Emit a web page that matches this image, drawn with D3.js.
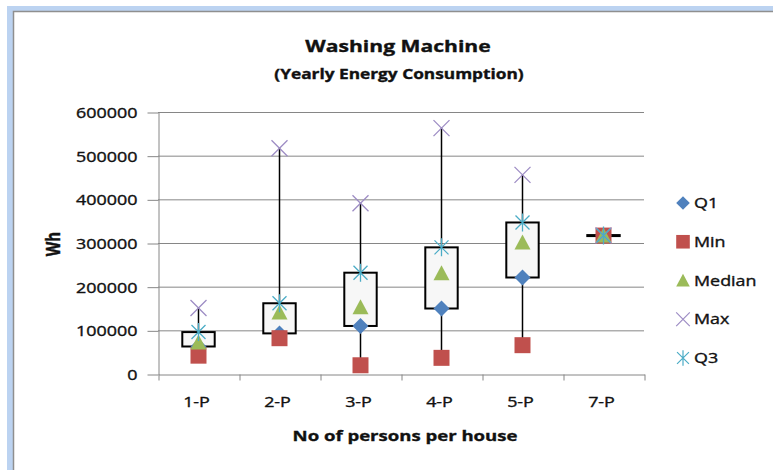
<!DOCTYPE html>
<html>
<head>
<meta charset="utf-8">
<script src="https://cdn.jsdelivr.net/npm/d3@7"></script>
<style>
  body { margin: 0; background: white; }
  text { font-family: "Open Sans", sans-serif; fill: #111; stroke: #111; stroke-width: 0.35px; }
</style>
</head>
<body>
<div id="chart"></div>
<script>
var svgWidth = 773;
var svgHeight = 470;
var stretch = 1.28; // the reference text is drawn wide

// data
var categories = ["1-P", "2-P", "3-P", "4-P", "5-P", "7-P"];
var q1Values     = [63000, 93000, 110000, 150000, 221000, 317000];
var minValues    = [42000, 82000, 20000, 37000, 66000, 317000];
var medianValues = [72000, 141000, 153000, 231000, 301000, 317000];
var maxValues    = [151000, 517000, 391000, 563000, 456000, 317000];
var q3Values     = [96000, 162000, 232000, 290000, 347000, 317000];
var yTicks = [0, 100000, 200000, 300000, 400000, 500000, 600000];
var seriesNames = ["Q1", "Min", "Median", "Max", "Q3"];

var plotLeft = 158, plotRight = 644, plotTop = 112, plotBottom = 374;
var axisColor = "#868686";

var svg = d3.select("#chart")
	.append("svg")
	.attr("width", svgWidth)
	.attr("height", svgHeight);

// frame like the spreadsheet window edge
svg.append("rect")
	.attr("x", 7).attr("y", 6)
	.attr("width", svgWidth).attr("height", svgHeight)
	.attr("fill", "#bcd3f1");
svg.append("rect")
	.attr("x", 13.5).attr("y", 11.5)
	.attr("width", svgWidth).attr("height", svgHeight)
	.attr("fill", "white")
	.attr("stroke", "#8f8f8f")
	.attr("stroke-width", 1.5);

var x = d3.scaleBand()
	.domain(categories)
	.range([plotLeft, plotRight]);
var xEdges = d3.scaleLinear()
	.domain([0, categories.length])
	.range([plotLeft, plotRight]);
var y = d3.scaleLinear()
	.domain([0, 600000])
	.range([plotBottom, plotTop]);

var addText = function(str, tx, ty, size, weight, anchor) {
	return svg.append("text")
		.attr("transform", "translate(" + tx + "," + ty + ") scale(" + stretch + ",1)")
		.attr("text-anchor", anchor || "middle")
		.style("font-size", size + "px")
		.style("font-weight", weight)
		.text(str);
}

// titles
addText("Washing Machine", 398, 52, 16.5, "bold");
addText("(Yearly Energy Consumption)", 399, 79, 13.5, "bold");
addText("No of persons per house", 405, 441, 14.5, "bold");
svg.append("text")
	.attr("transform", "translate(60,244) scale(" + stretch + ",1) rotate(-90)")
	.attr("text-anchor", "middle")
	.style("font-size", "15px")
	.style("font-weight", "bold")
	.text("Wh");

// gridlines
svg.append("g")
	.selectAll("line")
	.data(yTicks.slice(1))
	.enter()
	.append("line")
	.attr("x1", plotLeft).attr("x2", plotRight)
	.attr("y1", function(d){return y(d) + 0.5})
	.attr("y2", function(d){return y(d) + 0.5})
	.attr("stroke", axisColor)
	.attr("stroke-width", 1);

// y axis
var yAxis = svg.append("g")
	.attr("transform", "translate(" + (plotLeft + 0.5) + ",0.5)")
	.call(d3.axisLeft(y).tickValues(yTicks).tickSizeInner(11).tickSizeOuter(0).tickFormat(d3.format("d")));
yAxis.select(".domain").attr("stroke", axisColor);
yAxis.selectAll(".tick line").attr("stroke", axisColor);
yAxis.selectAll(".tick text")
	.attr("x", null)
	.attr("dy", "0.36em")
	.attr("transform", "translate(-21,0) scale(" + stretch + ",1)")
	.style("font-size", "14px")
	.style("font-family", "'Open Sans', sans-serif")
	.attr("fill", "#111");

// x axis: ticks at category edges, labels at centres
var xAxis = svg.append("g")
	.attr("transform", "translate(0.5," + (plotBottom + 0.5) + ")")
	.call(d3.axisBottom(xEdges).ticks(categories.length).tickSizeInner(6).tickSizeOuter(0).tickFormat(""));
xAxis.select(".domain").attr("stroke", axisColor);
xAxis.selectAll(".tick line").attr("stroke", axisColor);

var xLabels = svg.append("g")
	.attr("transform", "translate(0," + plotBottom + ")")
	.call(d3.axisBottom(x).tickSize(0));
xLabels.select(".domain").remove();
xLabels.selectAll(".tick text")
	.attr("y", null)
	.attr("dy", null)
	.attr("transform", "translate(-2,33) scale(" + stretch + ",1)")
	.style("font-size", "14px")
	.style("font-family", "'Open Sans', sans-serif")
	.attr("fill", "#111");

// boxes
var rows = categories.map(function(c, i) {
	return {cat: c, q1: q1Values[i], min: minValues[i], median: medianValues[i], max: maxValues[i], q3: q3Values[i]};
});
var boxWidth = x.bandwidth() * 0.4;
var cx = function(d){return x(d.cat) + x.bandwidth() / 2};

svg.append("g")
	.selectAll("line")
	.data(rows)
	.enter()
	.append("line")
	.attr("x1", cx).attr("x2", cx)
	.attr("y1", function(d){return y(d.min)})
	.attr("y2", function(d){return y(d.max)})
	.attr("stroke", "black")
	.attr("stroke-width", 1.5);

// a box with q1 == q3 gets a height of 1 so that it still shows as a thick bar
svg.append("g")
	.selectAll("rect")
	.data(rows)
	.enter()
	.append("rect")
	.attr("x", function(d){return cx(d) - boxWidth / 2})
	.attr("y", function(d){return y(Math.max(d.q1, d.q3)) - (d.q1 === d.q3 ? 0.5 : 0)})
	.attr("width", boxWidth)
	.attr("height", function(d){return Math.max(1, Math.abs(y(d.q1) - y(d.q3)))})
	.attr("fill", "#f7f7f7")
	.attr("stroke", "black")
	.attr("stroke-width", 2);

// marker shapes
var diamond = "M0,-8L8,0L0,8L-8,0Z";
var square = "M-8,-8H8V8H-8Z";
var triangle = "M0,-8L8,7H-8Z";
var cross = "M-8,-8L8,8M-8,8L8,-8";
var star = "M-7,-7L7,7M-7,7L7,-7M0,-9V9";

var markers = [
	{name: "Q1", key: "q1", path: diamond, fill: "#4f81bd", stroke: "none"},
	{name: "Min", key: "min", path: square, fill: "#c0504d", stroke: "none"},
	{name: "Median", key: "median", path: triangle, fill: "#9bbb59", stroke: "none"},
	{name: "Max", key: "max", path: cross, fill: "none", stroke: "#9d8cc4"},
	{name: "Q3", key: "q3", path: star, fill: "none", stroke: "#4bacc6"}
];

markers.forEach(function(m) {
	svg.append("g")
		.selectAll("path")
		.data(rows)
		.enter()
		.append("path")
		.attr("transform", function(d){return "translate(" + cx(d) + "," + y(d[m.key]) + ")"})
		.attr("d", m.path)
		.attr("fill", m.fill)
		.attr("stroke", m.stroke)
		.attr("stroke-width", 1.3);
});

// legend
var legendY = d3.scalePoint()
	.domain(seriesNames)
	.range([203, 358]);
markers.forEach(function(m) {
	svg.append("path")
		.attr("transform", "translate(683," + legendY(m.name) + ") scale(0.85)")
		.attr("d", m.path)
		.attr("fill", m.fill)
		.attr("stroke", m.stroke)
		.attr("stroke-width", 1.4);
	addText(m.name, 694, legendY(m.name) + 5, 14, "normal", "start");
});
</script>
</body>
</html>
